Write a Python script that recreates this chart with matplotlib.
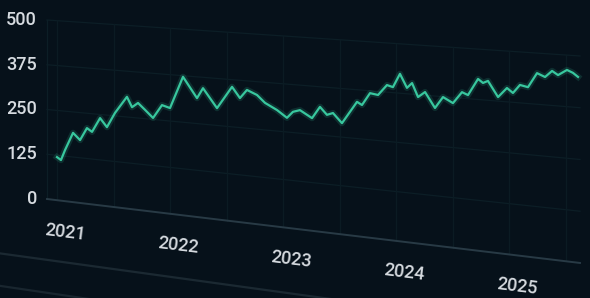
import numpy as np
import matplotlib
matplotlib.use("Agg")
import matplotlib.pyplot as plt
import matplotlib.transforms as mtransforms

# values (decimal year, value)
years = [2021.000, 2021.035, 2021.071, 2021.142, 2021.204, 2021.265, 2021.310, 2021.381,
         2021.442, 2021.513, 2021.619, 2021.664, 2021.717, 2021.779, 2021.850, 2021.929,
         2022.000, 2022.115, 2022.239, 2022.292, 2022.416, 2022.549, 2022.619, 2022.681,
         2022.770, 2022.841, 2022.947, 2023.035, 2023.088, 2023.150, 2023.257, 2023.327,
         2023.389, 2023.442, 2023.522, 2023.655, 2023.699, 2023.770, 2023.841, 2023.920,
         2023.973, 2024.035, 2024.097, 2024.142, 2024.195, 2024.257, 2024.345, 2024.416,
         2024.504, 2024.584, 2024.637, 2024.726, 2024.770, 2024.814, 2024.903, 2024.982,
         2025.035, 2025.097, 2025.168, 2025.248, 2025.319, 2025.381, 2025.434, 2025.513,
         2025.566, 2025.611]
values = [120, 113, 142, 192, 174, 209, 200, 240,
          217, 258, 305, 278, 291, 274, 254, 291,
          285, 372, 318, 346, 296, 356, 328, 351,
          340, 321, 305, 287, 304, 310, 292, 323,
          304, 310, 286, 344, 337, 369, 366, 393,
          389, 424, 390, 403, 369, 383, 345, 374,
          361, 390, 384, 426, 417, 423, 385, 409,
          398, 419, 415, 451, 443, 459, 450, 464,
          458, 449]

year_ticks = [2021, 2022, 2023, 2024, 2025]
half_years = [2021.0, 2021.5, 2022.0, 2022.5, 2023.0, 2023.5, 2024.0, 2024.5, 2025.0, 2025.5]
value_ticks = [0, 125, 250, 375, 500]

BG = "#06111a"
LINE = "#38c79e"
TEXT = "#d6dbe0"
FONTS = ["Roboto", "DejaVu Sans"]

W_PX, H_PX = 590, 298


class Tilt(mtransforms.Transform):
    """Axes fractions -> pixels on a plane seen at an angle (photo of a screen)."""
    input_dims = 2
    output_dims = 2

    x0, width = 47.0, 533.0           # left / width of the plot area in pixels
    base0, base_slope = 199.0, 0.12   # y of the zero line at the left, and its drop
    top0, top_slope = 20.0, 0.0675    # same for the top grid line

    def transform_non_affine(self, values):
        values = np.asarray(values, dtype=float).reshape(-1, 2)
        u, v = values[:, 0], values[:, 1]
        x = self.x0 + u * self.width
        yb = self.base0 + self.base_slope * (x - self.x0)
        yt = self.top0 + self.top_slope * (x - self.x0)
        y = yb - v * (yb - yt)
        return np.column_stack([x, H_PX - y])


fig = plt.figure(figsize=(W_PX / 100, H_PX / 100), dpi=100, facecolor=BG)
ax = fig.add_axes([0, 0, 1, 1])
ax.set_facecolor(BG)
ax.axis("off")
ax.set_autoscale_on(False)
ax.set_xlim(2020.9115, 2025.6283)
ax.set_ylim(0, 500)
xmin, xmax = ax.get_xlim()

T = ax.transScale + ax.transLimits + Tilt()

# grid (very faint in the photo)
for g in value_ticks[1:]:
    ax.plot([xmin, xmax], [g, g], color="#0c1e26", lw=0.9, transform=T, clip_on=False)
for h in half_years:
    ax.plot([h, h], [0, 500], color="#0b1b23", lw=0.9, transform=T, clip_on=False)
ax.plot([xmin, xmin], [0, 500], color="#0c1e26", lw=0.9, transform=T, clip_on=False)

# zero line and the card edges below it
ax.plot([xmin, xmax], [0, 0], color="#283a45", lw=1.4, transform=T, clip_on=False)
ax.plot([2020.4, 2025.8], [-170, -170], color="#1b2932", lw=1.6, transform=T, clip_on=False)
ax.plot([2020.4, 2025.8], [-262, -262], color="#19262f", lw=1.6, transform=T, clip_on=False)

# series with a soft glow
ax.plot(years, values, color=LINE, lw=4.5, alpha=0.16, transform=T, clip_on=False,
        solid_joinstyle="round")
ax.plot(years, values, color=LINE, lw=1.6, transform=T, clip_on=False,
        solid_joinstyle="round")

# labels
for v in value_ticks:
    ax.annotate(str(v), xy=(xmin, v), xycoords=T, xytext=(-10, 0),
                textcoords="offset pixels", ha="right", va="center",
                color=TEXT, fontsize=13, fontweight="medium", family=FONTS)
for yr in year_ticks:
    ax.annotate(str(yr), xy=(yr, 0), xycoords=T, xytext=(8, -32),
                textcoords="offset pixels", ha="center", va="center",
                rotation=-7, rotation_mode="anchor",
                color=TEXT, fontsize=13, fontweight="medium", family=FONTS)

fig.savefig("out.png", dpi=100, facecolor=BG)
